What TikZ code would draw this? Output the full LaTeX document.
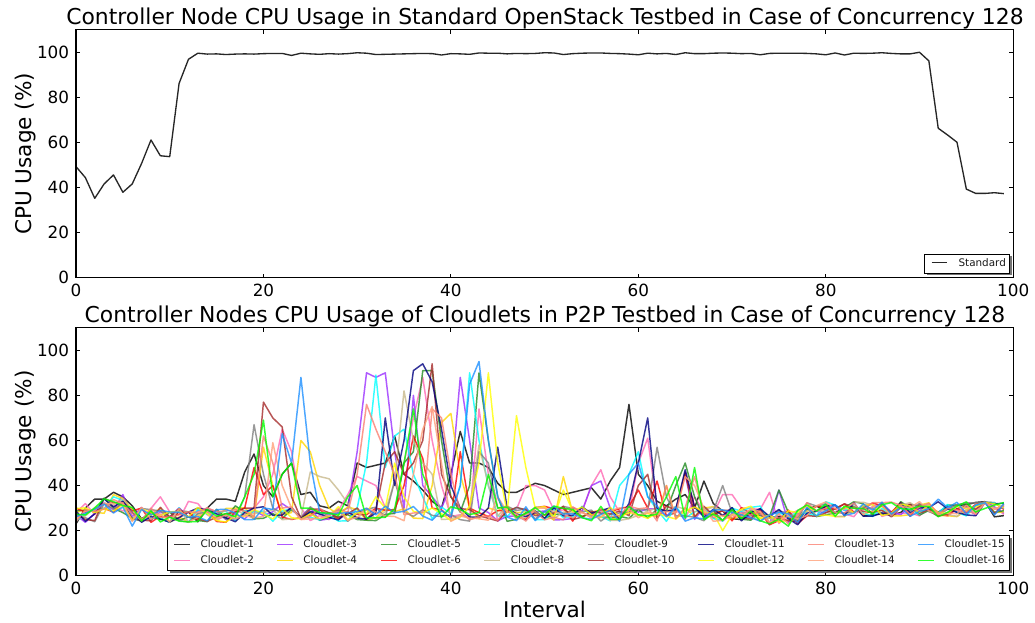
\documentclass[tikz,border=0pt]{standalone}
\usepackage{fontspec}
\setmainfont{DejaVu Sans}
\usetikzlibrary{calc}

% series colours
\definecolor{c1}{HTML}{000000}
\definecolor{c2}{HTML}{FF69B4}
\definecolor{c3}{HTML}{9B30FF}
\definecolor{c4}{HTML}{FFD700}
\definecolor{c5}{HTML}{228B22}
\definecolor{c6}{HTML}{FF0000}
\definecolor{c7}{HTML}{00FFFF}
\definecolor{c8}{HTML}{C8B98C}
\definecolor{c9}{HTML}{808080}
\definecolor{c10}{HTML}{A52A2A}
\definecolor{c11}{HTML}{000080}
\definecolor{c12}{HTML}{FFFF00}
\definecolor{c13}{HTML}{FA8072}
\definecolor{c14}{HTML}{FFA07A}
\definecolor{c15}{HTML}{1E90FF}
\definecolor{c16}{HTML}{00FF00}

\tikzset{
  frame/.style={draw=black, line width=0.8pt},
  tickmark/.style={draw=black, line width=0.6pt},
  ticklab/.style={font=\fontsize{12.6}{14}\selectfont, inner sep=0pt},
  titlelab/.style={font=\fontsize{16.4}{19}\selectfont, inner sep=0pt, anchor=base},
  axislab/.style={font=\fontsize{16.2}{19}\selectfont, inner sep=0pt, anchor=base},
  leglab/.style={font=\fontsize{7.8}{9}\selectfont, inner sep=0pt, anchor=mid west, text=black!90},
  legbox/.style={draw=black, line width=0.8pt, fill=white},
  legshadow/.style={fill=black!55, draw=none},
  stdline/.style={draw=black!85, line width=1pt, line join=round},
  cloudline/.style={line width=1.1pt, draw opacity=0.8, line join=round},
  data/.style={shift={(76,277.7)}, xscale=9.372, yscale=-2.254},
}

% draws one cloudlet curve: noisy baseline plus the listed interval/value points
\newcommand\cloudplot[2]{\draw[cloudline,#2] plot coordinates {#1};}
\newcommand\cloudseries[3]{%
  \pgfmathsetseed{#2}%
  \foreach \i in {0,...,99}{%
    \pgfmathsetmacro\cbase{(\i<18)*(27+4*(\i>2)*(\i<6)) + (\i>17)*(\i<74)*27.5 + (\i>73)*(\i<78)*26 + (\i>77)*29.5}%
    \pgfmathsetmacro\cv{\cbase + 3.4*rand}%
    \expandafter\xdef\csname cv\i\endcsname{\cv}%
  }%
  \foreach \ci/\cw in {#3}{\expandafter\xdef\csname cv\ci\endcsname{\cw}}%
  \gdef\cpts{}%
  \foreach \i in {0,...,99}{\xdef\cpts{\cpts (\i,\csname cv\i\endcsname)}}%
  \expandafter\cloudplot\expandafter{\cpts}{#1}%
}

% frame, inward ticks and tick labels of one panel (#1 name prefix, #2 vertical offset in px)
\newcommand\panelframe[2]{%
  \begin{scope}[yshift=-#2*0.75pt]
  \begin{scope}[data]
    \foreach \k in {0,20,...,100}{
      \draw[tickmark] (\k,0) -- ++(0,1.8);
      \draw[tickmark] (\k,110) -- ++(0,-1.8);
      \node[ticklab, anchor=north, yshift=-4.4pt] (#1x\k) at (\k,0) {\k};
    }
    \foreach \k in {0,20,...,100}{
      \draw[tickmark] (0,\k) -- ++(0.45,0);
      \draw[tickmark] (100,\k) -- ++(-0.45,0);
      \node[ticklab, anchor=east, xshift=-5pt] (#1y\k) at (0,\k) {\k};
    }
    \draw[frame] (0,0) rectangle (100,110);
  \end{scope}
  \end{scope}
}

\begin{document}
\begin{tikzpicture}[x=0.75pt, y=-0.75pt]
\useasboundingbox[fill=white] (0,0) rectangle (1035,623);

% ---------------- upper panel: standard testbed ----------------
\node[titlelab] (toptitle) at (545,25) {Controller Node CPU Usage in Standard OpenStack Testbed in Case of Concurrency 128};
\node[axislab, rotate=90] (topylab) at (31.5,153.8) {CPU Usage (\%)};

\begin{scope}[data]
\draw[stdline] plot coordinates {
(0,49.3) (1,44.4) (2,35.2) (3,41.6) (4,45.6) (5,37.9) (6,41.6) (7,50.7) (8,61.1) (9,54.1)
(10,53.7) (11,86.2) (12,96.9) (13,99.6) (14,99.2) (15,99.3) (16,99.0) (17,99.2) (18,99.3) (19,99.2)
(20,99.4) (21,99.5) (22,99.5) (23,98.6) (24,99.6) (25,99.3) (26,99.1) (27,99.4) (28,99.2) (29,99.4)
(30,99.8) (31,99.6) (32,99.0) (33,99.1) (34,99.2) (35,99.3) (36,99.4) (37,99.5) (38,99.4) (39,98.8)
(40,99.4) (41,99.3) (42,99.1) (43,99.7) (44,99.6) (45,99.6) (46,99.3) (47,99.5) (48,99.4) (49,99.5)
(50,99.8) (51,99.7) (52,99.0) (53,99.4) (54,99.6) (55,99.7) (56,99.7) (57,99.5) (58,99.4) (59,99.2)
(60,98.9) (61,99.6) (62,99.3) (63,99.5) (64,99.0) (65,99.8) (66,99.4) (67,99.4) (68,99.6) (69,99.7)
(70,99.6) (71,99.4) (72,99.5) (73,98.9) (74,99.5) (75,99.6) (76,99.6) (77,99.6) (78,99.5) (79,99.3)
(80,98.9) (81,99.7) (82,98.8) (83,99.6) (84,99.5) (85,99.6) (86,99.8) (87,99.5) (88,99.3) (89,99.3)
(90,100.0) (91,96.2) (92,66.3) (93,63.3) (94,60.1) (95,39.3) (96,37.4) (97,37.4) (98,37.7) (99,37.3)};
\end{scope}

\panelframe{t}{0}

% legend of the upper panel
\fill[legshadow] (926.8,256.5) rectangle (1011.5,275.2);
\node[legbox, minimum width=63.5pt, minimum height=14pt, inner sep=0pt, anchor=north west] (toplegend) at (924.3,254) {};
\coordinate (stdA) at (931.7,262.7);
\coordinate (stdB) at (946.7,262.7);
\draw[stdline] (stdA) -- (stdB);
\node[leglab] (stdtext) at (958.3,262.7) {Standard};

% ---------------- lower panel: P2P cloudlets ----------------
\node[titlelab] (bottitle) at (545,322.7) {Controller Nodes CPU Usage of Cloudlets in P2P Testbed in Case of Concurrency 128};
\node[axislab, rotate=90] (botylab) at (31.5,451.7) {CPU Usage (\%)};
\node[axislab] (xlab) at (544.5,617.5) {Interval};

\begin{scope}[yshift=-298*0.75pt]
\begin{scope}[data]
\cloudseries{c1}{101}{0/23,1/30,2/34,3/34,4/37,5/35,6/31,14/30,15/34,16/34,17/33,18/46,19/54,20/40,21/35,22/45,23/50,24/36,25/37,26/31,27/30,28/33,29/31,30/50,31/48,32/49,33/50,34/62,35/45,36/42,37/38,38/33,39/30,40/45,41/64,42/50,43/50,44/48,45/41,46/37,47/37,48/39,49/41,50/40,51/38,52/36,53/37,54/38,55/39,56/34,57/42,58/48,59/76,60/45,61/40,62/33,63/31,64/34,65/36,66/30,67/42,68/32}
\cloudseries{c2}{202}{0/28,1/32,9/35,12/33,13/32,19/30,20/35,21/45,22/65,23/55,24/30,29/36,30/44,31/42,32/40,35/50,36/70,37/88,38/60,39/40,43/74,44/45,48/40,49/40,50/38,55/40,56/47,57/35,60/50,61/61,62/30,66/35,69/36,70/36,74/37}
\cloudseries{c3}{303}{5/36,22/32,29/30,30/55,31/90,32/88,33/90,34/55,35/30,36/80,37/40,38/35,39/30,40/40,41/88,42/60,43/30,44/28,55/40,56/42,57/30,65/45,66/25,75/38}
\cloudseries{c4}{404}{4/36,20/57,21/40,22/27,23/28,24/60,25/55,26/40,27/30,38/40,39/68,40/72,41/45,42/30,52/44,53/28,63/40,70/25}
\cloudseries{c5}{505}{14/24,17/31,35/50,36/55,37/91,38/91,39/60,40/35,42/40,43/90,44/60,45/35,64/40,65/50,66/35,75/38}
\cloudseries{c6}{606}{18/30,19/48,20/36,21/40,22/26,35/40,36/62,37/52,38/30,41/55,42/30,60/38,61/30,62/42,65/45}
\cloudseries{c7}{707}{4/35,30/30,31/50,32/89,33/48,34/62,35/65,36/45,37/35,41/40,42/90,43/60,44/40,58/40,59/45,60/55,61/35,67/30,70/30}
\cloudseries{c8}{808}{25/46,26/44,27/43,28/38,29/32,34/42,35/82,36/60,37/50,38/45,43/58,44/40,62/30}
\cloudseries{c9}{909}{18/35,19/67,20/45,21/30,34/42,43/55,44/50,45/30,62/57,63/35,69/40,71/27}
\cloudseries{c10}{1010}{19/30,20/77,21/70,22/66,23/35,33/50,34/55,35/45,36/50,37/60,38/94,39/45,40/35,60/40,61/45,65/46}
\cloudseries{c11}{1111}{5/33,6/28,33/70,34/40,35/60,36/91,37/94,38/86,39/65,40/40,41/30,42/26,43/26,44/30,45/57,46/30,59/32,60/50,61/70,62/30,65/47}
\cloudseries{c12}{1212}{32/35,33/30,34/50,35/35,38/30,43/50,44/90,45/50,46/28,47/71,48/48,49/30,52/38,69/20,70/27}
\cloudseries{c13}{1313}{20/62,21/50,22/30,30/45,31/76,32/65,33/55,34/45,38/74,39/70,40/45,63/40,66/44}
\cloudseries{c14}{1414}{21/59,22/40,23/30,36/45,37/65,38/75,39/50,45/35,65/44,66/40}
\cloudseries{c15}{1515}{6/22,22/63,23/50,24/88,25/50,26/28,41/40,42/85,43/95,44/60,45/35,59/45,60/50,61/35,92/34}
\cloudseries{c16}{1616}{18/35,19/45,20/69,21/35,22/45,23/50,24/30,29/35,30/40,35/50,36/74,37/45,38/35,39/26,44/45,45/30,63/35,64/44,66/48,74/23,76/22}
\end{scope}
\end{scope}

\panelframe{b}{298}

% legend of the lower panel
\fill[legshadow] (169.5,537.5) rectangle (1011.5,572.5);
\node[legbox, minimum width=631.5pt, minimum height=26.25pt, inner sep=0pt, anchor=north west] (botlegend) at (167,535) {};
\foreach \lx/\tx/\ly/\cc/\nm in {
  174/200.3/544.3/c1/Cloudlet-1, 174/200.3/560.3/c2/Cloudlet-2,
  277/303.2/544.3/c3/Cloudlet-3, 277/303.2/560.3/c4/Cloudlet-4,
  381/407.3/544.3/c5/Cloudlet-5, 381/407.3/560.3/c6/Cloudlet-6,
  484/510.6/544.3/c7/Cloudlet-7, 484/510.6/560.3/c8/Cloudlet-8,
  587.7/614.3/544.3/c9/Cloudlet-9, 587.7/614.3/560.3/c10/Cloudlet-10,
  698/724.3/544.3/c11/Cloudlet-11, 698/724.3/560.3/c12/Cloudlet-12,
  807.7/834.3/544.3/c13/Cloudlet-13, 807.7/834.3/560.3/c14/Cloudlet-14,
  918/944.3/544.3/c15/Cloudlet-15, 918/944.3/560.3/c16/Cloudlet-16}{
  \coordinate (\nm-a) at (\lx,\ly);
  \coordinate (\nm-b) at (\lx+16.3,\ly);
  \draw[cloudline,\cc] (\nm-a) -- (\nm-b);
  \node[leglab] (\nm-t) at (\tx,\ly) {\nm};
}
\end{tikzpicture}
\end{document}
